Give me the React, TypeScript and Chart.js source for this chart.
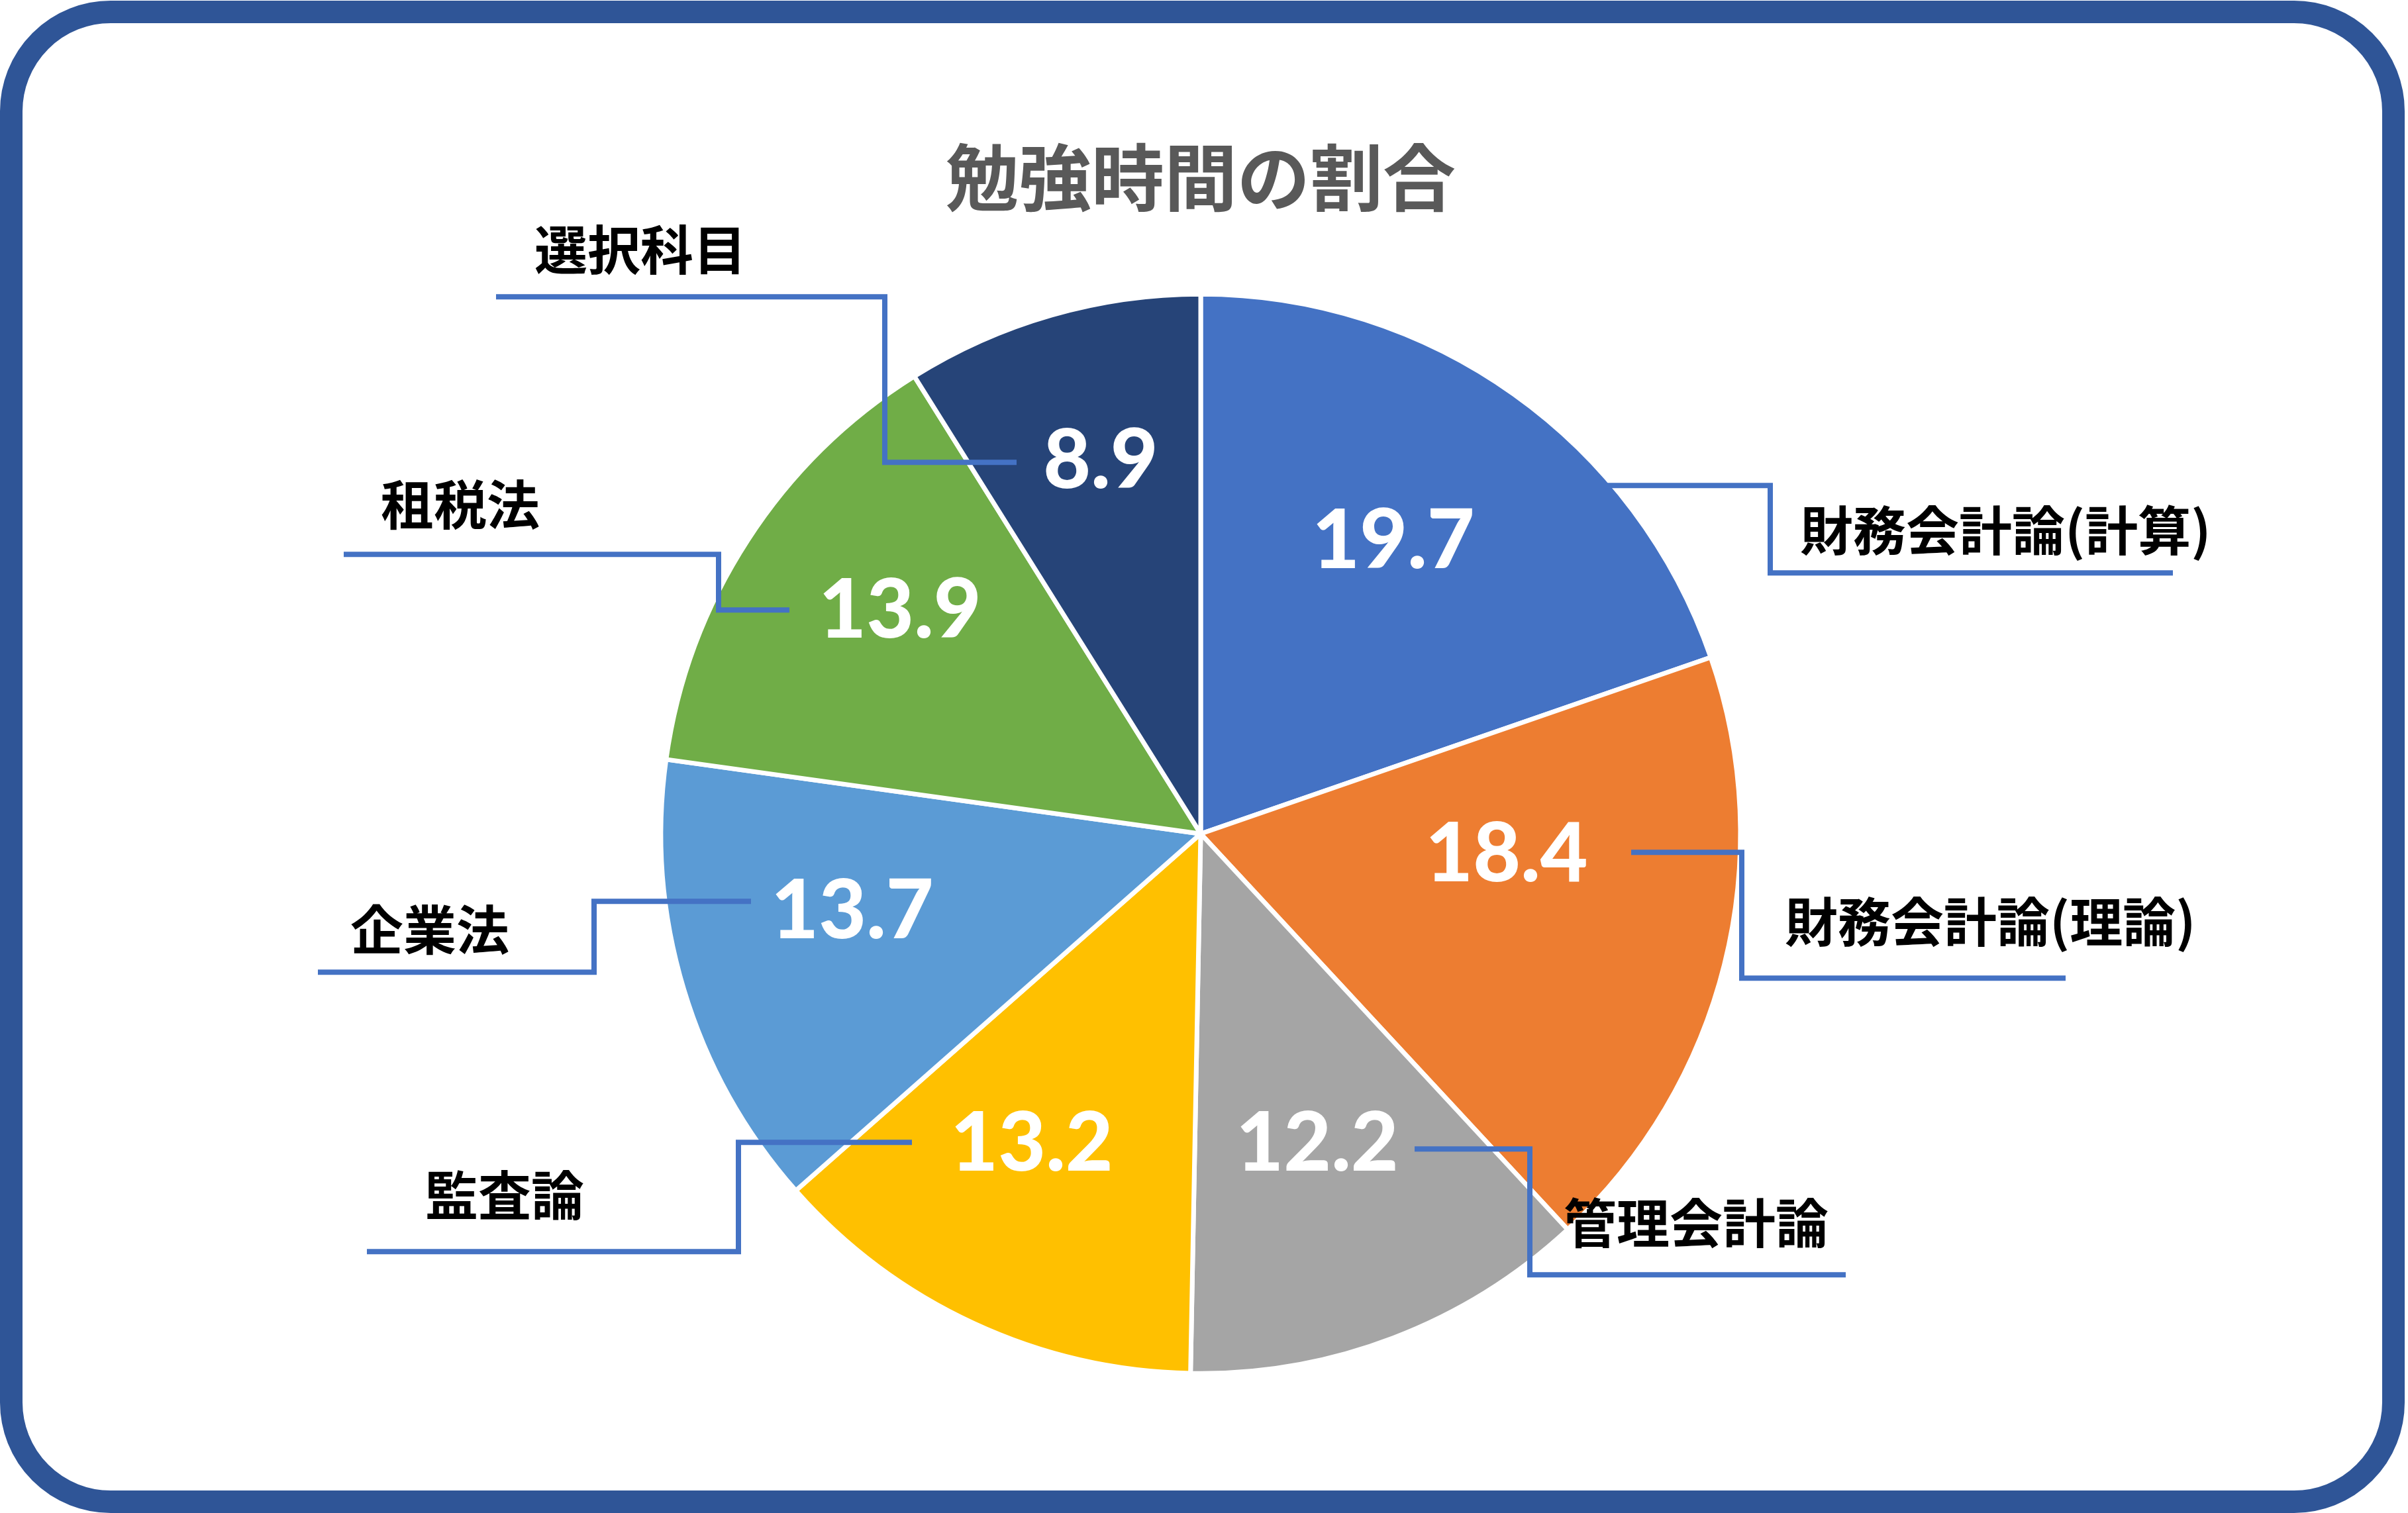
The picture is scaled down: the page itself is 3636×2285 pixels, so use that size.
import { useEffect, useRef } from "react";
import { Chart, registerables } from "chart.js";

Chart.register(...registerables);

const W = 3636;
const H = 2285;

const TITLE = "勉強時間の割合";
const categories = [
  "財務会計論(計算)",
  "財務会計論(理論)",
  "管理会計論",
  "監査論",
  "企業法",
  "租税法",
  "選択科目",
];
const values = [19.7, 18.4, 12.2, 13.2, 13.7, 13.9, 8.9];
const colors = ["#4472C4", "#ED7D31", "#A5A5A5", "#FFC000", "#5B9BD5", "#70AD47", "#264478"];

// Layout (pixel offsets from pie centre, for a reference radius REF_R)
const REF_R = 815;
const valueLabelOffsets: [number, number][] = [
  [291, -441],
  [462, 32],
  [176, 469],
  [-255, 469],
  [-526, 118],
  [-454, -336],
  [-151, -562],
];
const leaderPaths: [number, number][][] = [
  [[610, -526], [860, -526], [860, -394], [1468, -394]],
  [[650, 28], [817, 28], [817, 218], [1306, 218]],
  [[323, 476], [497, 476], [497, 666], [974, 666]],
  [[-436, 466], [-698, 466], [-698, 631], [-1259, 631]],
  [[-679, 102], [-916, 102], [-916, 209], [-1333, 209]],
  [[-621, -338], [-728, -338], [-728, -422], [-1294, -422]],
  [[-278, -561], [-477, -561], [-477, -811], [-1064, -811]],
];
const categoryLabelOffsets: [number, number][] = [
  [905, -459],
  [882, 132],
  [548, 587],
  [-1171, 545],
  [-1284, 144],
  [-1238, -498],
  [-1006, -883],
];

const framePlugin = {
  id: "frame",
  beforeDraw(chart: any) {
    const ctx: CanvasRenderingContext2D = chart.ctx;
    ctx.save();
    ctx.fillStyle = "#FFFFFF";
    ctx.fillRect(0, 0, chart.width, chart.height);
    const lw = 34;
    const x0 = lw / 2;
    const y0 = lw / 2 + 1;
    const x1 = 3631 - lw / 2;
    const y1 = chart.height - lw / 2;
    const rr = 150;
    ctx.beginPath();
    ctx.moveTo(x0 + rr, y0);
    ctx.lineTo(x1 - rr, y0);
    ctx.arcTo(x1, y0, x1, y0 + rr, rr);
    ctx.lineTo(x1, y1 - rr);
    ctx.arcTo(x1, y1, x1 - rr, y1, rr);
    ctx.lineTo(x0 + rr, y1);
    ctx.arcTo(x0, y1, x0, y1 - rr, rr);
    ctx.lineTo(x0, y0 + rr);
    ctx.arcTo(x0, y0, x0 + rr, y0, rr);
    ctx.closePath();
    ctx.lineWidth = lw;
    ctx.strokeStyle = "#2F5597";
    ctx.stroke();
    ctx.restore();
  },
};

const labelPlugin = {
  id: "pieLabels",
  afterDatasetsDraw(chart: any) {
    const ctx: CanvasRenderingContext2D = chart.ctx;
    const meta = chart.getDatasetMeta(0);
    const arc = meta.data[0];
    if (!arc) return;
    const cx = arc.x;
    const cy = arc.y;
    const k = arc.outerRadius / REF_R;
    ctx.save();
    // leader lines
    ctx.strokeStyle = "#4472C4";
    ctx.lineWidth = 8;
    ctx.lineJoin = "miter";
    ctx.lineCap = "butt";
    leaderPaths.forEach((path) => {
      ctx.beginPath();
      path.forEach(([dx, dy], i) => {
        const px = cx + dx * k;
        const py = cy + dy * k;
        if (i === 0) ctx.moveTo(px, py);
        else ctx.lineTo(px, py);
      });
      ctx.stroke();
    });
    // value labels
    ctx.fillStyle = "#FFFFFF";
    ctx.font = "900 124px Lato";
    ctx.textAlign = "center";
    ctx.textBaseline = "middle";
    values.forEach((v, i) => {
      const [dx, dy] = valueLabelOffsets[i];
      ctx.fillText(v.toFixed(1), cx + dx * k, cy + dy * k);
    });
    // category labels
    ctx.fillStyle = "#000000";
    ctx.font = 'bold 80px "Noto Sans CJK JP"';
    ctx.textAlign = "left";
    ctx.textBaseline = "middle";
    categories.forEach((c, i) => {
      const [dx, dy] = categoryLabelOffsets[i];
      ctx.fillText(c, cx + dx * k, cy + dy * k);
    });
    ctx.restore();
  },
};

export default function App() {
  const ref = useRef<HTMLCanvasElement>(null);
  useEffect(() => {
    const canvas = ref.current;
    if (!canvas) return;
    const chart = new Chart(canvas, {
      type: "pie",
      data: {
        labels: categories,
        datasets: [
          {
            data: values,
            backgroundColor: colors,
            borderColor: "#FFFFFF",
            borderWidth: 7,
            radius: REF_R,
          } as any,
        ],
      },
      options: {
        responsive: false,
        animation: false,
        devicePixelRatio: 1,
        layout: { padding: { left: 0, right: 10, top: 0, bottom: 167 } },
        plugins: {
          legend: { display: false },
          tooltip: { enabled: false },
          title: {
            display: true,
            text: TITLE,
            color: "#595959",
            font: { family: '"Noto Sans CJK JP"', size: 110, weight: "bold", lineHeight: 1.2 },
            padding: { top: 202, bottom: 66.4 },
          },
        },
      } as any,
      plugins: [framePlugin, labelPlugin],
    });
    return () => chart.destroy();
  }, []);
  return (
    <div style={{ position: "fixed", left: 0, top: 0, width: W, height: H, background: "#FFFFFF" }}>
      <canvas ref={ref} width={W} height={H} style={{ display: "block", width: W, height: H }} />
    </div>
  );
}
